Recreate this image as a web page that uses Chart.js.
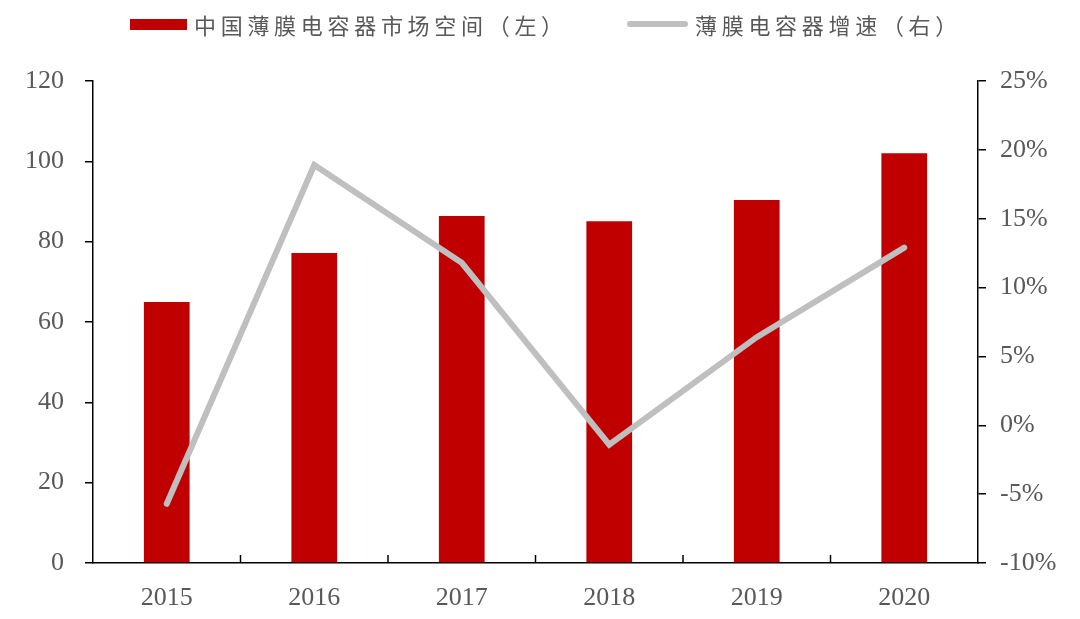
<!DOCTYPE html>
<html>
<head>
<meta charset="utf-8">
<script src="https://cdn.jsdelivr.net/npm/chart.js@4.4.1/dist/chart.umd.min.js"></script>
<style>
    html, body { margin: 0; padding: 0; background: #fff; }
    #wrap { position: relative; width: 1080px; height: 619px; }
    #legend {
        position: absolute; top: 9px; left: 0; width: 1080px; height: 30px;
        font-family: "Noto Sans CJK SC", sans-serif; font-size: 22px; color: #595959;
    }
    .item { position: absolute; top: 0; display: flex; align-items: center; height: 30px; letter-spacing: 4.7px; }
    .swatch { display: inline-block; margin-right: 7px; }
</style>
</head>
<body>
<div id="wrap">
    <canvas id="c" width="1080" height="619"></canvas>
    <div id="legend"></div>
</div>
<script>
// 数据
const years = ['2015', '2016', '2017', '2018', '2019', '2020'];
const marketSize = [65, 77.2, 86.4, 85.1, 90.4, 102];
const growth = [-5.7, 18.9, 11.8, -1.4, 6.4, 12.9];
const leftTicks = [0, 20, 40, 60, 80, 100, 120];
const rightTicks = [-10, -5, 0, 5, 10, 15, 20, 25];

const barName = '中国薄膜电容器市场空间（左）';
const lineName = '薄膜电容器增速（右）';
const red = '#C00000';
const grey = '#BFBFBF';
const textColor = '#595959';
const tickFont = { family: '"Liberation Serif", "Times New Roman", serif', size: 26 };

// legend (HTML)
const legend = document.getElementById('legend');
legend.innerHTML =
    '<div class="item" style="left:130px"><span class="swatch" style="width:57px;height:11px;background:' + red + '"></span>' + barName + '</div>' +
    '<div class="item" style="left:627px"><span class="swatch" style="width:61px;height:6px;border-radius:3px;background:' + grey + '"></span>' + lineName + '</div>';

// x 轴刻度向内
const innerTicks = {
    id: 'innerTicks',
    afterDraw(chart) {
        const x = chart.scales.x;
        const ctx = chart.ctx;
        const bottom = chart.chartArea.bottom;
        ctx.save();
        ctx.strokeStyle = '#000';
        ctx.lineWidth = 1.5;
        for (let i = 1; i < years.length; i++) {
            const px = (x.getPixelForValue(i - 1) + x.getPixelForValue(i)) / 2;
            ctx.beginPath();
            ctx.moveTo(px, bottom);
            ctx.lineTo(px, bottom - 8);
            ctx.stroke();
        }
        ctx.restore();
    }
};

new Chart(document.getElementById('c'), {
    data: {
        labels: years,
        datasets: [{
            type: 'line',
            label: lineName,
            data: growth,
            yAxisID: 'y1',
            borderColor: grey,
            borderWidth: 6,
            pointRadius: 0,
            borderCapStyle: 'round',
            borderJoinStyle: 'miter',
            tension: 0
        }, {
            type: 'bar',
            label: barName,
            data: marketSize,
            yAxisID: 'y',
            backgroundColor: red,
            categoryPercentage: 1,
            barPercentage: 0.31
        }]
    },
    options: {
        responsive: false,
        animation: false,
        layout: { padding: { top: 81, bottom: 0, left: 0, right: 0 } },
        plugins: { legend: { display: false }, tooltip: { enabled: false } },
        scales: {
            x: {
                offset: true,
                grid: { display: false },
                border: { color: '#000', width: 1.5 },
                ticks: { color: textColor, font: tickFont, padding: 12 },
                afterFit(s) { s.height = 56; }
            },
            y: {
                position: 'left',
                min: 0, max: 120,
                afterBuildTicks(s) { s.ticks = leftTicks.map(v => ({ value: v })); },
                grid: { drawOnChartArea: false, tickLength: 8, color: '#000', lineWidth: 1.5 },
                border: { color: '#000', width: 1.5 },
                ticks: { color: textColor, font: tickFont, padding: 21 },
                afterFit(s) { s.width = 93; }
            },
            y1: {
                position: 'right',
                min: -10, max: 25,
                afterBuildTicks(s) { s.ticks = rightTicks.map(v => ({ value: v })); },
                grid: { drawOnChartArea: false, tickLength: 8, color: '#000', lineWidth: 1.5 },
                border: { color: '#000', width: 1.5 },
                ticks: { color: textColor, font: tickFont, padding: 14, callback: v => v + '%' },
                afterFit(s) { s.width = 102; }
            }
        }
    },
    plugins: [innerTicks]
});
</script>
</body>
</html>
